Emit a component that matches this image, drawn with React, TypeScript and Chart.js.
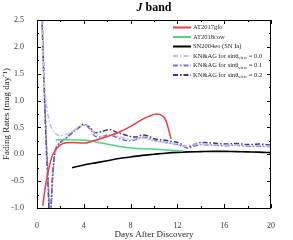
import React, { useEffect, useRef } from "react";
import { Chart, registerables } from "chart.js";

Chart.register(...registerables);

const xTickValues = [0, 4, 8, 12, 16, 20];
const yTickValues = [-1.0, -0.5, 0.0, 0.5, 1.0, 1.5, 2.0, 2.5];

const gfoDays = [0.5, 0.7, 1.0, 1.3, 1.7, 2.2, 3.0, 4.0, 5.0, 6.0, 7.0, 8.0, 9.0, 9.6, 10.2, 10.7, 11.0, 11.2, 11.35, 11.45];
const gfoRates = [-0.96, -0.62, -0.27, -0.03, 0.11, 0.2, 0.22, 0.21, 0.26, 0.33, 0.41, 0.52, 0.65, 0.71, 0.75, 0.72, 0.64, 0.5, 0.38, 0.29];

const cowDays = [1.6, 2.5, 3.5, 4.5, 5.5, 6.5, 7.5, 8.5, 9.5, 10.5, 11.5, 12.5];
const cowRates = [0.27, 0.27, 0.265, 0.25, 0.21, 0.17, 0.13, 0.11, 0.1, 0.09, 0.075, 0.06];

const eoDays = [3, 4, 5, 6, 7, 8, 9, 10, 11, 12, 13, 14, 15, 16, 17, 18, 19, 20];
const eoRates = [-0.25, -0.2, -0.16, -0.12, -0.08, -0.05, -0.02, 0.0, 0.02, 0.035, 0.045, 0.05, 0.055, 0.055, 0.05, 0.045, 0.04, 0.03];

const kn0Days = [0.35, 0.45, 0.55, 0.7, 0.85, 1.1, 1.5, 2.0, 2.5, 3.0, 3.5, 4.0, 4.5, 5.0, 5.5, 6.0, 6.5, 7.0, 7.5, 8.0, 8.5, 9.0, 9.5, 10, 10.5, 11, 11.5, 12, 12.5, 13, 13.5, 14, 15, 16, 17, 18, 19, 20];
const kn0Rates = [2.9, 2.2, 1.6, 1.15, 0.85, 0.58, 0.4, 0.35, 0.37, 0.42, 0.5, 0.55, 0.5, 0.38, 0.33, 0.35, 0.36, 0.33, 0.3, 0.27, 0.29, 0.31, 0.28, 0.25, 0.23, 0.22, 0.21, 0.19, 0.15, 0.17, 0.19, 0.19, 0.18, 0.17, 0.17, 0.16, 0.16, 0.15];

const kn1Days = [0.4, 0.55, 0.7, 0.85, 1.0, 1.1, 1.2, 1.35, 1.55, 1.8, 2.2, 2.7, 3.2, 3.7, 4.1, 4.6, 5.0, 5.5, 6.0, 6.5, 7.0, 7.5, 8.0, 8.5, 9.0, 9.5, 10, 10.5, 11, 11.5, 12, 12.5, 12.9, 13.3, 14, 15, 16, 17, 18, 19, 20];
const kn1Rates = [2.9, 1.8, 0.8, 0.0, -0.7, -1.15, -1.0, -0.4, 0.05, 0.18, 0.26, 0.34, 0.44, 0.52, 0.54, 0.45, 0.33, 0.32, 0.36, 0.34, 0.3, 0.26, 0.25, 0.28, 0.32, 0.3, 0.26, 0.24, 0.22, 0.2, 0.18, 0.15, 0.12, 0.14, 0.18, 0.17, 0.16, 0.17, 0.15, 0.15, 0.14];

const kn2Days = [0.35, 0.5, 0.65, 0.8, 0.95, 1.05, 1.15, 1.3, 1.5, 1.75, 2.1, 2.6, 3.1, 3.6, 4.0, 4.5, 5.0, 5.5, 6.2, 6.8, 7.4, 8.0, 8.5, 9.0, 9.5, 10, 10.5, 11, 11.5, 12, 12.4, 12.8, 13.2, 14, 15, 16, 17, 18, 19, 20];
const kn2Rates = [3.0, 2.0, 1.0, 0.1, -0.6, -1.1, -1.1, -0.5, 0.0, 0.15, 0.24, 0.32, 0.42, 0.5, 0.56, 0.5, 0.4, 0.42, 0.46, 0.41, 0.37, 0.33, 0.32, 0.36, 0.34, 0.29, 0.27, 0.26, 0.24, 0.22, 0.18, 0.12, 0.16, 0.22, 0.21, 0.19, 0.2, 0.18, 0.19, 0.17];

const seriesLabels = ["AT2017gfo", "AT2018cow", "SN2004eo (SN Ia)", "KN&AG for sin\u03B8", "KN&AG for sin\u03B8", "KN&AG for sin\u03B8"];
const knValues = ["0.0", "0.1", "0.2"];

const SERIF = "'Liberation Serif', 'Times New Roman', serif";
const DASHDOT = [5, 2, 1.5, 2];

function pts(xs: number[], ys: number[]) {
  return xs.map((x, i) => ({ x, y: ys[i] }));
}

const framePlugin = {
  id: "frame",
  afterDraw(chart: any) {
    const { ctx, chartArea, scales } = chart;
    const { left, right, top, bottom } = chartArea;
    const xs = scales.x;
    const ys = scales.y;
    ctx.save();
    ctx.strokeStyle = "#000";
    ctx.lineWidth = 1;
    ctx.setLineDash([]);
    ctx.strokeRect(Math.round(left) + 0.5, Math.round(top) + 0.5, Math.round(right - left) - 1, Math.round(bottom - top));
    ctx.beginPath();
    for (let v = 0; v <= 20; v += 2) {
      const p = Math.round(xs.getPixelForValue(v)) + 0.5;
      const len = v % 4 === 0 ? 4 : 2;
      ctx.moveTo(p, bottom);
      ctx.lineTo(p, bottom - len);
      ctx.moveTo(p, top);
      ctx.lineTo(p, top + len);
    }
    for (let k = 0; k <= 14; k++) {
      const v = -1 + k * 0.25;
      const p = Math.round(ys.getPixelForValue(v)) + 0.5;
      const len = k % 2 === 0 ? 4 : 2;
      ctx.moveTo(left, p);
      ctx.lineTo(left + len, p);
      ctx.moveTo(right, p);
      ctx.lineTo(right - len, p);
    }
    ctx.stroke();

    // title
    ctx.fillStyle = "#000";
    ctx.textBaseline = "middle";
    ctx.textAlign = "left";
    const cx = (left + right) / 2;
    ctx.font = `italic bold 12px ${SERIF}`;
    const jw = ctx.measureText("J ").width;
    ctx.font = `bold 12px ${SERIF}`;
    const bw = ctx.measureText("band").width;
    const sx = cx - (jw + bw) / 2;
    ctx.font = `italic bold 12px ${SERIF}`;
    ctx.fillText("J ", sx, 8);
    ctx.font = `bold 12px ${SERIF}`;
    ctx.fillText("band", sx + jw, 8);

    // legend
    const ds = chart.data.datasets;
    const lx0 = 173;
    const lx1 = 191;
    const tx = 193;
    for (let i = 0; i < ds.length; i++) {
      const y = 27.5 + i * 9.5;
      ctx.strokeStyle = ds[i].borderColor;
      ctx.lineWidth = 2;
      ctx.setLineDash(ds[i].borderDash || []);
      ctx.beginPath();
      ctx.moveTo(lx0, y);
      ctx.lineTo(lx1, y);
      ctx.stroke();
      ctx.setLineDash([]);
      ctx.fillStyle = "#222";
      ctx.font = `6.5px ${SERIF}`;
      ctx.textBaseline = "middle";
      const label = seriesLabels[i];
      ctx.fillText(label, tx, y);
      if (i >= 3) {
        let w = ctx.measureText(label).width;
        ctx.font = `4.5px ${SERIF}`;
        ctx.fillText("view", tx + w, y + 2);
        const sw = ctx.measureText("view").width;
        ctx.font = `6.5px ${SERIF}`;
        ctx.fillText(" = " + knValues[i - 3], tx + w + sw, y);
      }
    }
    ctx.restore();
  },
};

export default function App() {
  const ref = useRef<HTMLCanvasElement | null>(null);
  useEffect(() => {
    if (!ref.current) return;
    const common = { pointRadius: 0, fill: false, cubicInterpolationMode: "monotone" as const };
    const chart = new Chart(ref.current, {
      type: "line",
      data: {
        datasets: [
          { ...common, label: "AT2017gfo", data: pts(gfoDays, gfoRates), borderColor: "#f03c3c", borderWidth: 1.5 },
          { ...common, label: "AT2018cow", data: pts(cowDays, cowRates), borderColor: "#4fd67c", borderWidth: 1.5 },
          { ...common, label: "SN2004eo (SN Ia)", data: pts(eoDays, eoRates), borderColor: "#000000", borderWidth: 1.6 },
          { ...common, label: "KN0", data: pts(kn0Days, kn0Rates), borderColor: "#c2bee9", borderWidth: 1.5, borderDash: DASHDOT },
          { ...common, label: "KN1", data: pts(kn1Days, kn1Rates), borderColor: "#7a72cc", borderWidth: 1.5, borderDash: DASHDOT },
          { ...common, label: "KN2", data: pts(kn2Days, kn2Rates), borderColor: "#3b3682", borderWidth: 1.5, borderDash: DASHDOT },
        ],
      },
      options: {
        animation: false,
        responsive: false,
        maintainAspectRatio: false,
        layout: { padding: { top: 20, right: 22, left: 0, bottom: 0 } },
        plugins: { legend: { display: false }, title: { display: false }, tooltip: { enabled: false } },
        scales: {
          x: {
            type: "linear",
            min: 0,
            max: 20,
            afterFit: (s: any) => { s.height = 32; },
            afterBuildTicks: (s: any) => { s.ticks = xTickValues.map((v) => ({ value: v })); },
            grid: { display: false },
            border: { display: false },
            ticks: { font: { family: SERIF, size: 8 }, color: "#333", padding: 5, maxRotation: 0 },
            title: { display: true, text: "Days After Discovery", font: { family: SERIF, size: 9 }, color: "#222", padding: { top: 3, bottom: 0 } },
          },
          y: {
            type: "linear",
            min: -1,
            max: 2.5,
            afterFit: (s: any) => { s.width = 37; },
            afterBuildTicks: (s: any) => { s.ticks = yTickValues.map((v) => ({ value: v })); },
            grid: { display: false },
            border: { display: false },
            ticks: { font: { family: SERIF, size: 8 }, color: "#333", padding: 5, callback: (v: any) => Number(v).toFixed(1) },
            title: { display: true, text: "Fading Rates (mag day\u207B\u00B9)", font: { family: SERIF, size: 9 }, color: "#222", padding: { top: 1.5, bottom: 0 } },
          },
        },
      },
      plugins: [framePlugin],
    });
    return () => chart.destroy();
  }, []);
  return (
    <div style={{ position: "fixed", left: 0, top: 0, width: 293, height: 240, background: "#fff" }}>
      <canvas ref={ref} width={293} height={240} style={{ width: 293, height: 240, display: "block" }} />
    </div>
  );
}
